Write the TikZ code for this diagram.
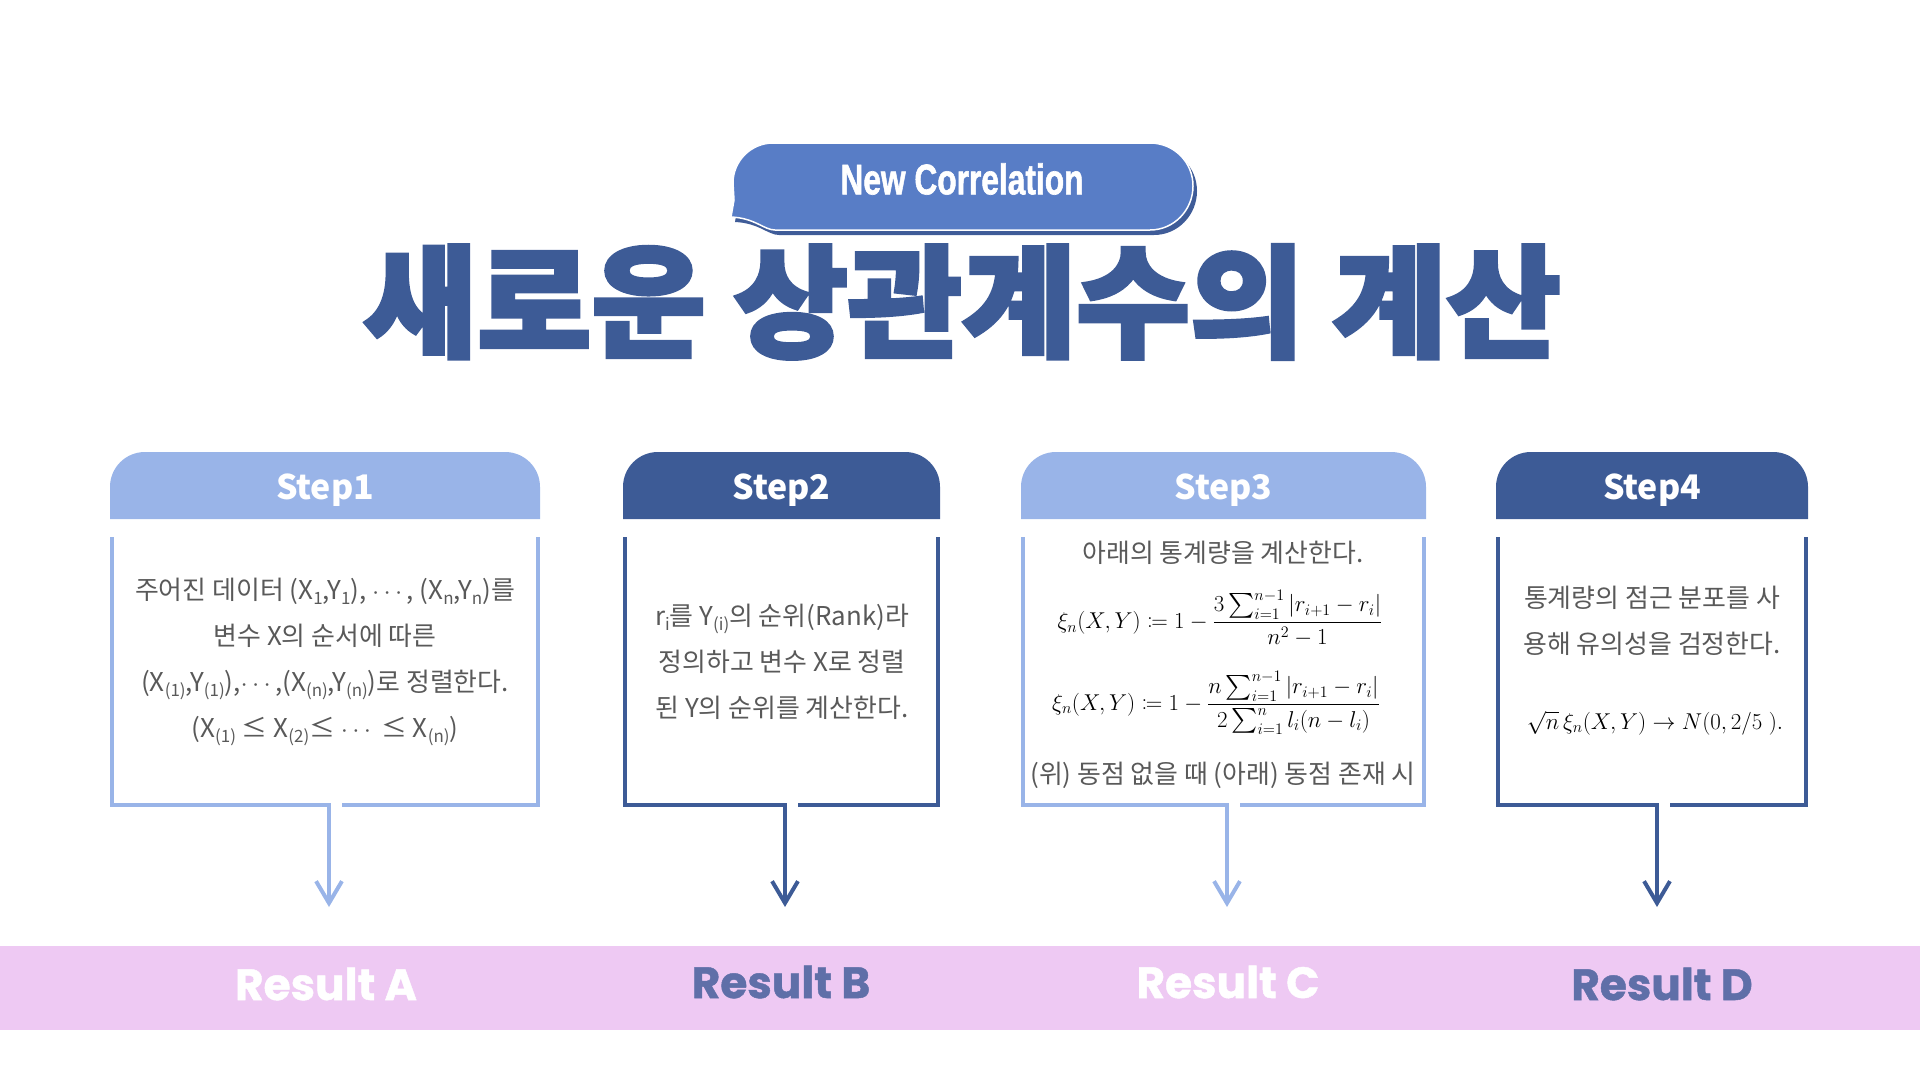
\RequirePackage{fix-cm}
\documentclass[tikz,border=0pt]{standalone}
\usepackage{amsmath,mathtools}
\usepackage{graphicx}
\usepackage{fontspec}
\setmainfont{Noto Sans CJK KR}
\newfontfamily\titlefont{Noto Sans CJK KR}[BoldFeatures={FakeBold=3}]
\newfontfamily\bubblefont{Liberation Sans}[BoldFeatures={FakeBold=1.5}]
\newfontfamily\resultfont{Poppins}[BoldFeatures={FakeBold=1}]
\usetikzlibrary{arrows.meta}

\definecolor{lightblue}{HTML}{99B4E8}
\definecolor{darkblue}{HTML}{3D5B96}
\definecolor{bubbleblue}{HTML}{587DC6}
\definecolor{shadowblue}{HTML}{3F5C98}
\definecolor{bandpink}{HTML}{EEC9F3}
\definecolor{resultblue}{HTML}{5F6FA8}
\definecolor{bodygray}{HTML}{595959}

\newcommand\lowsub[1]{\raisebox{-5pt}{\fontsize{17}{17}\selectfont #1}}
\newcommand\middots{$\cdots$}

\begin{document}
\begin{tikzpicture}[x=1bp,y=-1bp,>={Straight Barb[length=22pt,width=26pt]},
  stephead/.style={text=white,font=\fontsize{34}{34}\selectfont\bfseries},
  boxline/.style={line width=4pt,miter limit=10},
  bodytext/.style={text=bodygray,align=center,inner sep=0pt,font=\fontsize{26}{46}\selectfont},
  mathtext/.style={text=black,inner sep=0pt,font=\fontsize{23}{23}\selectfont},
  resulttext/.style={font=\fontsize{44}{44}\selectfont\resultfont\bfseries}]
\useasboundingbox (0,0) rectangle (1920,1080);

% --- speech bubble + title ---
\path[fill=bubbleblue,draw=white,line width=1.5pt,
  preaction={fill=shadowblue,transform canvas={shift={(4,5)}}}]
  (773,143) -- (1150,143) .. controls (1174,143) and (1193,162) .. (1193,186)
  .. controls (1193,210) and (1174,230) .. (1150,230) -- (775,230)
  .. controls (764,230) and (755,218) .. (731,217) -- (734,200) -- (733,183)
  .. controls (733,161) and (751,143) .. (773,143) -- cycle;
\node[text=white,font=\fontsize{43}{43}\selectfont] (bubble) at (962,179)
  {\scalebox{0.74}[1]{\bubblefont\bfseries New Correlation}};
\node[text=darkblue,font=\fontsize{122}{122}\selectfont] (title) at (962,302)
  {\scalebox{1.02}[1]{\titlefont\bfseries 새로운 상관계수의 계산}};

% --- step boxes ---
\foreach \lx/\rx/\sx/\col/\num in {110/540/329/lightblue/1, 623/940/785/darkblue/2,
    1021/1426/1227/lightblue/3, 1496/1808/1657/darkblue/4}{
  \fill[\col,rounded corners=35] (\lx,519) -- (\lx,452) -- (\rx,452) -- (\rx,519);
  \node[stephead] (head\num) at ({(\lx+\rx)/2},490) {Step\num};
  \coordinate (stem\num) at (\sx,805);
  \coordinate (tip\num) at (\sx,907);
  \draw[\col,boxline,->] (\lx+2,537) -- (\lx+2,805) -- (stem\num) -- (tip\num);
  \draw[\col,boxline] (\sx+13,805) -- (\rx-2,805) -- (\rx-2,537);
}

% --- box texts ---
\node[bodytext] (txt1) at (325,662) {주어진 데이터 (X\lowsub{1},Y\lowsub{1}), \middots, (X\lowsub{n},Y\lowsub{n})를\\
  변수 X의 순서에 따른\\
  (X\lowsub{(1)},Y\lowsub{(1)}),\middots,(X\lowsub{(n)},Y\lowsub{(n)})로 정렬한다.\\
  (X\lowsub{(1)} ≤ X\lowsub{(2)}≤ \middots{} ≤ X\lowsub{(n)})};
\node[bodytext] (txt2) at (782,662) {r\lowsub{i}를 Y\lowsub{(i)}의 순위(Rank)라\\
  정의하고 변수 X로 정렬\\ 된 Y의 순위를 계산한다.};
\node[bodytext] (txt3a) at (1223,553) {아래의 통계량을 계산한다.};
\node[mathtext] (eq3a) at (1220,618)
  {$\xi_n(X,Y)\coloneqq 1-\dfrac{3\sum_{i=1}^{n-1}|r_{i+1}-r_i|}{n^2-1}$};
\node[mathtext] (eq3b) at (1216,703)
  {$\xi_n(X,Y)\coloneqq 1-\dfrac{n\sum_{i=1}^{n-1}|r_{i+1}-r_i|}{2\sum_{i=1}^{n}l_i(n-l_i)}$};
\node[bodytext] (txt3b) at (1223,775) {(위) 동점 없을 때 (아래) 동점 존재 시};
\node[bodytext] (txt4) at (1652,621) {통계량의 점근 분포를 사\\ 용해 유의성을 검정한다.};
\node[mathtext] (eq4) at (1655,723) {$\sqrt{n}\,\xi_n(X,Y)\rightarrow N(0,2/5\;).$};

% --- results ---
\fill[bandpink] (0,946) rectangle (1920,1030);
\node[resulttext,text=white] (resA) at (326,984) {Result A};
\node[resulttext,text=resultblue] (resB) at (781,982) {Result B};
\node[resulttext,text=white] (resC) at (1228,982) {Result C};
\node[resulttext,text=resultblue] (resD) at (1662,984) {Result D};
\end{tikzpicture}
\end{document}
